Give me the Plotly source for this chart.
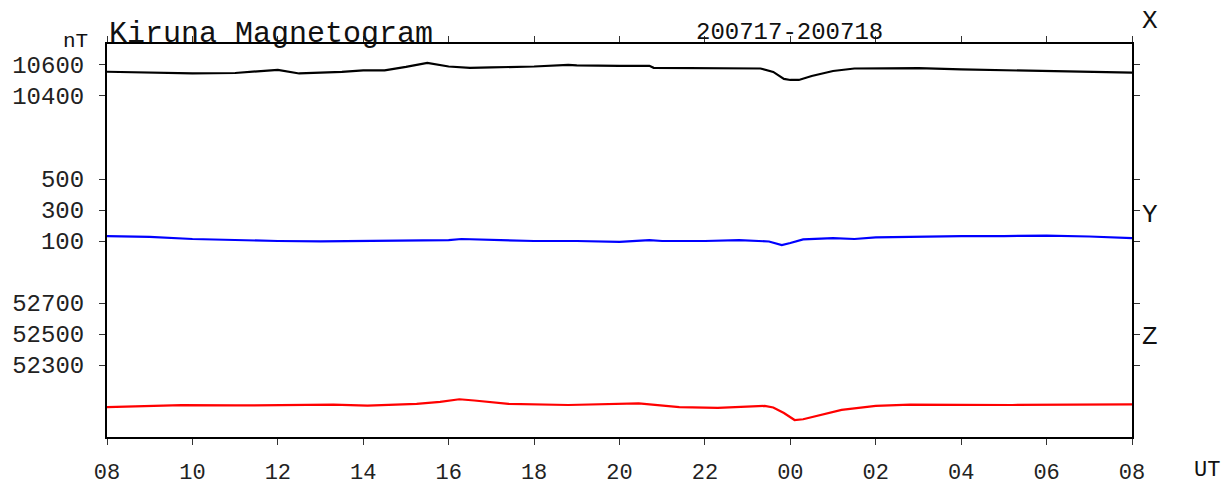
import plotly.graph_objects as go

# hours since 08 UT on 2020-07-17
tx = [0, 1, 2, 3, 4, 4.5, 5, 5.5, 6, 6.5, 7, 7.5, 8, 8.5, 9, 10, 10.8, 11, 12, 12.7, 12.8,
      13, 14, 15, 15.3, 15.6, 15.85, 16.0, 16.2, 16.5, 17, 17.5, 18, 19, 20, 21, 22, 23, 24]
x_comp = [10556, 10552, 10545, 10548, 10568, 10545, 10548, 10555, 10565, 10565, 10587, 10613,
          10590, 10581, 10584, 10590, 10600, 10597, 10594, 10594, 10581, 10581, 10581, 10581,
          10577, 10555, 10510, 10503, 10503, 10529, 10561, 10577, 10577, 10579, 10571, 10565,
          10559, 10556, 10550]

ty = [0, 1, 2, 3, 4, 5, 6, 7, 8, 8.3, 9, 10, 11, 12, 12.7, 13, 14, 14.8, 15.5, 15.8, 16.0,
      16.3, 17, 17.5, 18, 19, 20, 21, 22, 23, 24]
y_comp = [132, 126, 113, 106, 100, 97, 100, 103, 106, 113, 106, 100, 100, 94, 106, 100, 100,
          106, 97, 74, 87, 110, 119, 113, 123, 129, 132, 132, 135, 129, 119]

tz = [0, 1, 1.75, 3, 4, 5.3, 6.1, 7.25, 7.8, 8.25, 8.6, 9.4, 10.8, 11.5, 12.45, 13.4, 14.3,
      15.4, 15.6, 15.85, 16.1, 16.3, 16.6, 17.2, 18, 18.8, 21.2, 24]
z_comp = [52028, 52033, 52041, 52039, 52042, 52044, 52038, 52049, 52062, 52079, 52071, 52049,
          52042, 52047, 52053, 52028, 52023, 52036, 52026, 51990, 51945, 51950, 51971, 52010,
          52036, 52044, 52042, 52046]

x_ticks = [0, 2, 4, 6, 8, 10, 12, 14, 16, 18, 20, 22, 24]
x_tick_text = ["08", "10", "12", "14", "16", "18", "20", "22", "00", "02", "04", "06", "08"]
x_axis_ticks = [10400, 10600]
y_axis_ticks = [100, 300, 500]
z_axis_ticks = [52300, 52500, 52700]

FONT = "Liberation Mono"

fig = go.Figure()
fig.add_trace(go.Scatter(x=tx, y=x_comp, mode="lines", line=dict(color="black", width=2.2),
                         yaxis="y", showlegend=False))
fig.add_trace(go.Scatter(x=ty, y=y_comp, mode="lines", line=dict(color="#0000ff", width=2.2),
                         yaxis="y2", showlegend=False))
fig.add_trace(go.Scatter(x=tz, y=z_comp, mode="lines", line=dict(color="#ff0000", width=2.2),
                         yaxis="y3", showlegend=False))

common_y = dict(side="left", ticks="outside", ticklen=6, tickwidth=1, tickcolor="#333",
                showline=True, linecolor="black", linewidth=2, mirror="ticks",
                showgrid=False, zeroline=False, automargin=False,
                tickfont=dict(family=FONT, size=24, color="#222"),
                ticklabelstandoff=10)

fig.update_layout(
    width=1225, height=488,
    margin=dict(l=107, r=93, t=44, b=51, autoexpand=False),
    plot_bgcolor="white", paper_bgcolor="white",
    xaxis=dict(range=[0, 24], tickvals=x_ticks, ticktext=x_tick_text, ticks="outside",
               ticklen=6, tickwidth=1, tickcolor="#333", showline=True, linecolor="black",
               linewidth=2, mirror="ticks", showgrid=False, zeroline=False, automargin=False,
               tickfont=dict(family=FONT, size=22, color="#222"), ticklabelstandoff=8),
    yaxis=dict(range=[8200, 10735], tickvals=x_axis_ticks,
               ticktext=[str(v) for v in x_axis_ticks], **common_y),
    yaxis2=dict(range=[-1164.5, 1371], tickvals=y_axis_ticks,
                ticktext=[str(v) for v in y_axis_ticks], overlaying="y", **common_y),
    yaxis3=dict(range=[51835.5, 54371], tickvals=z_axis_ticks,
                ticktext=[str(v) for v in z_axis_ticks], overlaying="y", **common_y),
)

ann = [
    dict(text="Kiruna Magnetogram", x=0, y=1.026, xanchor="left", yanchor="middle", size=30),
    dict(text="200717-200718", x=0.666, y=1.03, xanchor="center", yanchor="middle", size=24),
    dict(text="nT", x=-0.017, y=1.006, xanchor="right", yanchor="middle", size=21),
    dict(text="X", x=1.0176, y=1.058, xanchor="center", yanchor="middle", size=26),
    dict(text="Y", x=1.0176, y=0.565, xanchor="center", yanchor="middle", size=26),
    dict(text="Z", x=1.0176, y=0.255, xanchor="center", yanchor="middle", size=26),
    dict(text="UT", x=1.073, y=-0.084, xanchor="center", yanchor="middle", size=22),
]
for a in ann:
    fig.add_annotation(text=a["text"], x=a["x"], y=a["y"], xref="paper", yref="paper",
                       xanchor=a["xanchor"], yanchor=a["yanchor"], showarrow=False,
                       font=dict(family=FONT, size=a["size"], color="#111"))

fig.write_html("out.html", config={"displayModeBar": False},
               post_script="document.body.style.margin='0';document.body.style.overflow='hidden';")
